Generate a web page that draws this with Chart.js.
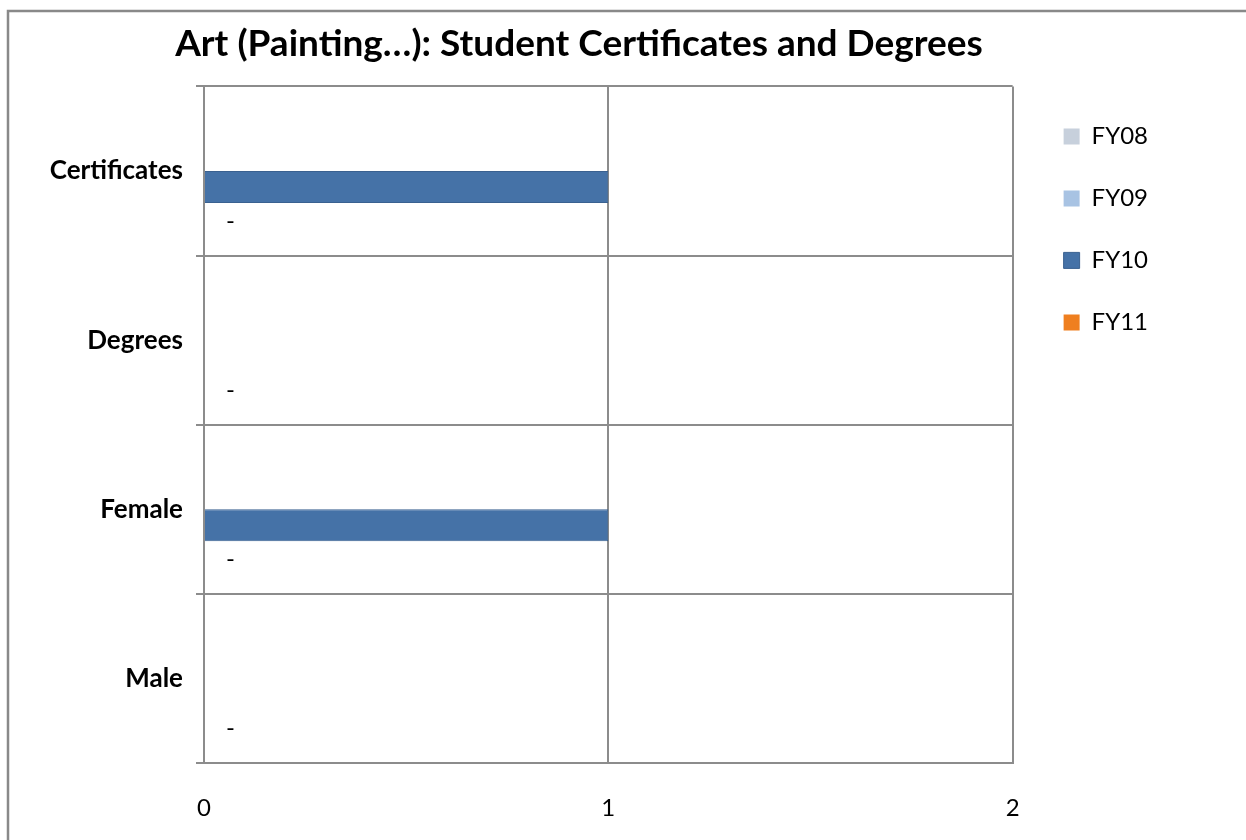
<!DOCTYPE html>
<html>
<head>
<meta charset="utf-8">
<title>Art (Painting…): Student Certificates and Degrees</title>
<script src="https://cdn.jsdelivr.net/npm/chart.js@4.4.1/dist/chart.umd.min.js"></script>
<style>
  html, body { margin: 0; padding: 0; background: #fff; }
  #wrap { position: relative; width: 1246px; height: 840px; }
</style>
</head>
<body>
<div id="wrap"><canvas id="chart"></canvas></div>
<script>
// Chart data
const titleText = "Art (Painting…): Student Certificates and Degrees";
const categories = ["Certificates", "Degrees", "Female", "Male"];
const seriesNames = ["FY08", "FY09", "FY10", "FY11"];
const fy08 = [null, null, null, null];
const fy09 = [null, null, null, null];
const fy10 = [1, 0, 1, 0];
const fy11 = [0, 0, 0, 0];
const xTicks = [0, 1, 2];

const GRID = "#8c8c8c";
const FONT = "Lato";

// grey frame on the top and left edge, like the Excel chart border
const frame = {
  id: "frame",
  beforeDraw(chart) {
    const ctx = chart.ctx;
    ctx.save();
    ctx.fillStyle = "#fff";
    ctx.fillRect(0, 0, chart.width, chart.height);
    ctx.strokeStyle = "#898989";
    ctx.lineWidth = 2.5;
    ctx.beginPath();
    ctx.moveTo(8, chart.height);
    ctx.lineTo(8, 11);
    ctx.lineTo(chart.width, 11);
    ctx.stroke();
    ctx.restore();
  }
};

// FY11 data labels (zero shows as "-")
const dashLabels = {
  id: "dashLabels",
  afterDatasetsDraw(chart) {
    const ctx = chart.ctx;
    const meta = chart.getDatasetMeta(3);
    ctx.save();
    ctx.fillStyle = "#000";
    ctx.font = "24px " + FONT;
    ctx.textBaseline = "middle";
    meta.data.forEach(function(bar, i) {
      const v = fy11[i];
      if (v === null) return;
      ctx.fillText(v === 0 ? "-" : String(v), bar.x + 22, bar.y + 2);
    });
    ctx.restore();
  }
};

new Chart(document.getElementById("chart"), {
  type: "bar",
  data: {
    labels: categories,
    datasets: [{
      label: seriesNames[0],
      data: fy08,
      backgroundColor: "#c7d0dc",
      borderWidth: 0
    }, {
      label: seriesNames[1],
      data: fy09,
      backgroundColor: "#a8c3e3",
      borderWidth: 0
    }, {
      label: seriesNames[2],
      data: fy10,
      backgroundColor: "#4572a7",
      borderColor: "#3a6190",
      borderWidth: 1
    }, {
      label: seriesNames[3],
      data: fy11,
      backgroundColor: "#ef7f1f",
      borderWidth: 0
    }]
  },
  options: {
    indexAxis: "y",
    responsive: true,
    maintainAspectRatio: false,
    animation: false,
    categoryPercentage: 0.757,
    barPercentage: 1,
    layout: { padding: { left: 0, right: 88, top: 0, bottom: 0 } },
    scales: {
      x: {
        min: xTicks[0],
        max: xTicks[xTicks.length - 1],
        ticks: { stepSize: 1, color: "#000", font: { family: FONT, size: 24 }, padding: 31 },
        grid: { color: GRID, lineWidth: 2, drawTicks: false },
        border: { color: GRID, width: 2 },
        afterFit: function(s) { s.height = 77; }
      },
      y: {
        ticks: { color: "#000", font: { family: FONT, size: 26, weight: "bold" }, padding: 13 },
        grid: { color: GRID, lineWidth: 2, tickLength: 8, offset: true },
        border: { color: GRID, width: 2 },
        afterFit: function(s) { s.width = 204; }
      },
      // spacer between plot and legend
      pad: {
        type: "linear",
        position: "right",
        grid: { display: false },
        ticks: { display: false },
        border: { display: false },
        afterFit: function(s) { s.width = 13; }
      }
    },
    plugins: {
      title: {
        display: true,
        text: titleText,
        color: "#000",
        font: { family: FONT, size: 37, weight: "bold" },
        padding: { top: 22, bottom: 20 }
      },
      legend: {
        position: "right",
        align: "start",
        fullSize: false,
        labels: { color: "#000", font: { family: FONT, size: 24 }, boxWidth: 16, boxHeight: 16, padding: 38 }
      },
      tooltip: { enabled: false }
    }
  },
  plugins: [frame, dashLabels]
});
</script>
</body>
</html>
